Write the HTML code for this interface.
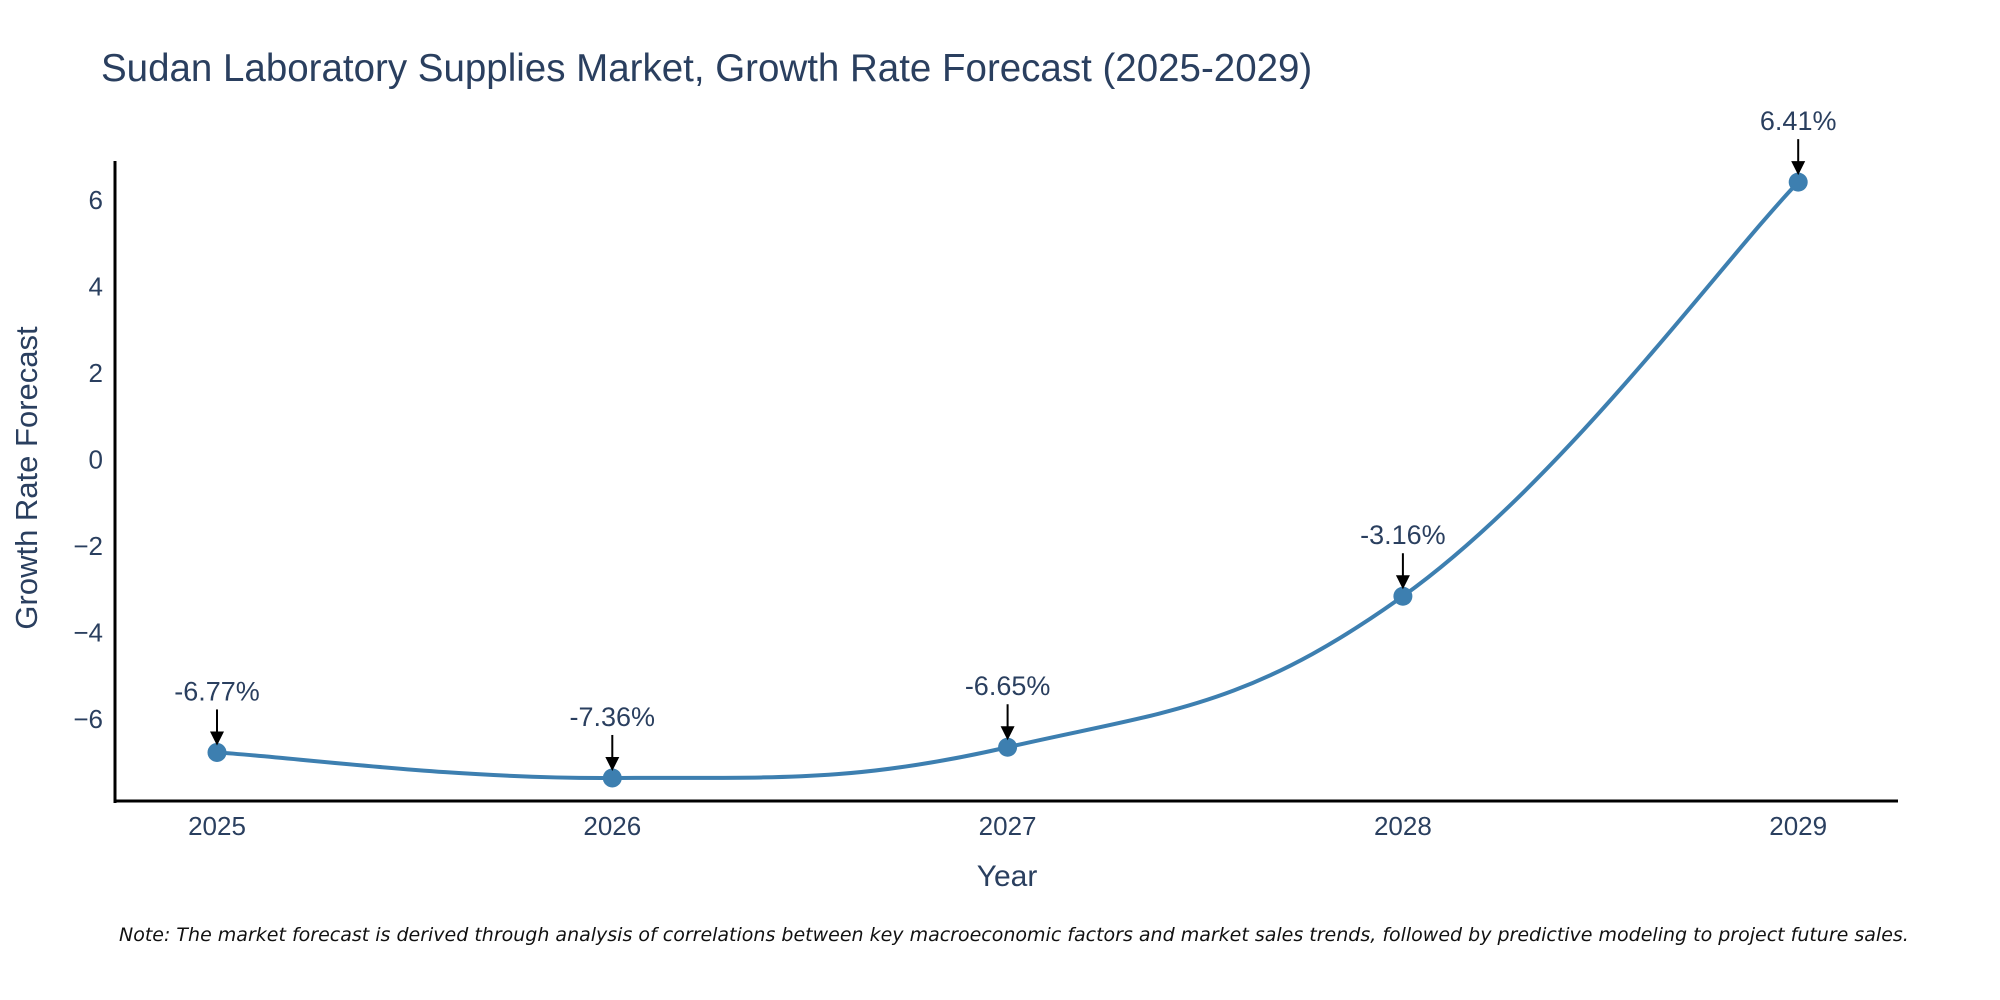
<!DOCTYPE html>
<html><head><meta charset="utf-8"><style>
body{margin:0;background:#fff;}
svg{display:block;font-family:"Liberation Sans",sans-serif;}
</style></head><body>
<svg id="chart" width="2000" height="1000">
<text x="101" y="81" font-size="38.5" fill="#2a3f5f">Sudan Laboratory Supplies Market, Growth Rate Forecast (2025-2029)</text>
<g id="yticks"></g>
<g id="xticks"></g>
<line x1="115" y1="161" x2="115" y2="803" stroke="#000" stroke-width="3"/>
<line x1="114" y1="801" x2="1898" y2="801" stroke="#000" stroke-width="3"/>
<path id="series" fill="none" stroke="#3d7fb0" stroke-width="4"/>
<g id="marks"></g>
<text x="1007" y="886" font-size="30" fill="#2a3f5f" text-anchor="middle">Year</text>
<text transform="translate(37,478) rotate(-90)" font-size="31" fill="#2a3f5f" text-anchor="middle">Growth Rate Forecast</text>
<text x="119" y="941" font-size="19" font-style="italic" fill="#111" font-family="DejaVu Sans, sans-serif">Note: The market forecast is derived through analysis of correlations between key macroeconomic factors and market sales trends, followed by predictive modeling to project future sales.</text>
</svg>
<script>
const categories=["2025","2026","2027","2028","2029"];
const values=[-6.77,-7.36,-6.65,-3.16,6.41];
const yTicks=[-6,-4,-2,0,2,4,6];
const yTickLabels=["−6","−4","−2","0","2","4","6"];
const NS="http://www.w3.org/2000/svg";
function xs(i){return 217+i*395.3;}
function ys(v){return 459.5-v*43.27;}
function mk(tag,attrs,parent){const e=document.createElementNS(NS,tag);for(const k in attrs)e.setAttribute(k,attrs[k]);parent.appendChild(e);return e;}
const yt=document.getElementById('yticks');
yTicks.forEach((t,i)=>{const e=mk('text',{x:103,y:ys(t)+9,'font-size':26,fill:'#2a3f5f','text-anchor':'end'},yt);


e.textContent=yTickLabels[i];});
const xt=document.getElementById('xticks');
categories.forEach((c,i)=>{const e=mk('text',{x:xs(i),y:835,'font-size':26,fill:'#2a3f5f','text-anchor':'middle'},xt);


e.textContent=c;});
const P=values.map((v,i)=>[xs(i),ys(v)]);
let d=`M${P[0][0]},${P[0][1]}`;const s=0.4;
for(let i=0;i<P.length-1;i++){const p0=P[Math.max(i-1,0)],p1=P[i],p2=P[i+1],p3=P[Math.min(i+2,P.length-1)];
const c1=[p1[0]+(p2[0]-p0[0])*s/2,p1[1]+(p2[1]-p0[1])*s/2];const c2=[p2[0]-(p3[0]-p1[0])*s/2,p2[1]-(p3[1]-p1[1])*s/2];
d+=` C${c1[0]},${c1[1]} ${c2[0]},${c2[1]} ${p2[0]},${p2[1]}`;}
document.getElementById('series').setAttribute('d',d);
const mg=document.getElementById('marks');
values.forEach((v,i)=>{const x=xs(i),y=ys(v);
const c=mk('circle',{cx:x,cy:y,r:9.5,fill:'#3d7fb0'},mg);


const l=mk('line',{x1:x,y1:y-43,x2:x,y2:y-20,stroke:'#000','stroke-width':2},mg);


const a=mk('polygon',{points:`${x-7},${y-21} ${x+7},${y-21} ${x},${y-7}`,fill:'#000'},mg);


const t=mk('text',{x:x,y:y-52,'font-size':27,fill:'#2a3f5f','text-anchor':'middle'},mg);


t.textContent=v.toFixed(2)+'%';});
</script>
</body></html>
